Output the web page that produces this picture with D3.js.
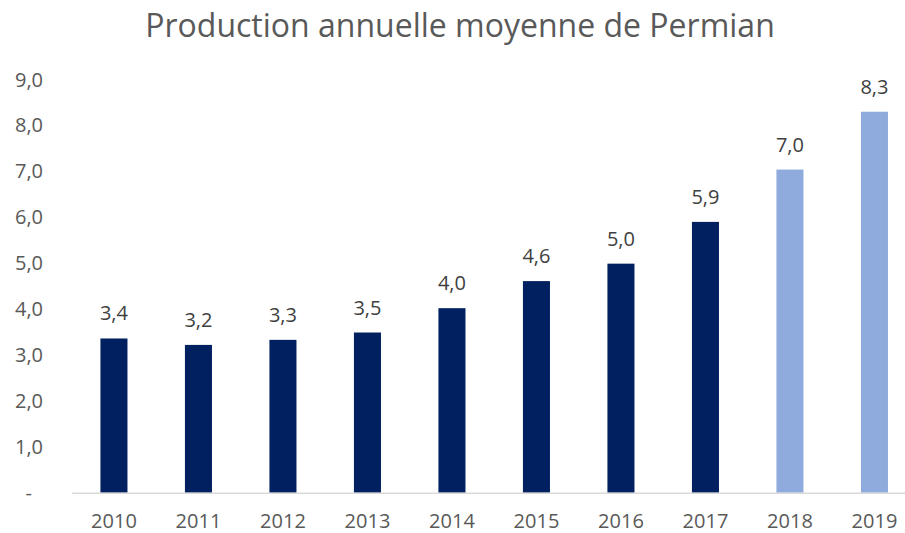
<!DOCTYPE html>
<html><head><meta charset="utf-8">
<script src="https://cdn.jsdelivr.net/npm/d3@7"></script>
<style>html,body{margin:0;padding:0;background:#fff;overflow:hidden}</style>
</head><body>
<svg id="c" width="905" height="533"></svg>
<script>
const title = "Production annuelle moyenne de Permian";
const years = ["2010","2011","2012","2013","2014","2015","2016","2017","2018","2019"];
const values = [3.36, 3.22, 3.33, 3.49, 4.02, 4.61, 4.99, 5.90, 7.04, 8.30];
const forecast = [false,false,false,false,false,false,false,false,true,true];
const yTicks = [0,1,2,3,4,5,6,7,8,9];

const svg = d3.select("#c");
const font = "'Open Sans', sans-serif";
const x = d3.scaleBand().domain(years).range([71.7, 916.7]).paddingInner(0.68).paddingOuter(0.34);
const y = d3.scaleLinear().domain([0, 9]).range([492.7, 79.6]);
const fmt = v => d3.format(".1f")(v).replace(".", ",");

svg.append("text").attr("x", 460).attr("y", 36.5).attr("text-anchor", "middle")
  .attr("font-family", font).attr("font-size", 32).attr("fill", "#595959").text(title);

// y tick labels
const yAxis = svg.append("g").attr("transform", "translate(43,0)")
  .call(d3.axisLeft(y).tickValues(yTicks).tickSize(0).tickPadding(0).tickFormat(v => v === 0 ? "-" : fmt(v)));
yAxis.select(".domain").remove();
yAxis.selectAll("text").attr("font-family", font).attr("font-size", 20).attr("fill", "#595959")
  .attr("dx", v => v === 0 ? -11 : 0);

// bars
svg.append("g").selectAll("rect").data(years).join("rect")
  .attr("x", d => x(d)).attr("width", x.bandwidth())
  .attr("y", (d, i) => y(values[i])).attr("height", (d, i) => y(0) - y(values[i]))
  .attr("fill", (d, i) => forecast[i] ? "#8FAADC" : "#002060");

// baseline
const xAxis = svg.append("g").attr("transform", `translate(0,${y(0)})`)
  .call(d3.axisBottom(x).tickSize(0).tickPadding(21));
xAxis.select(".domain").attr("stroke", "#d9d9d9").attr("stroke-width", 1.5);
xAxis.selectAll("text").attr("font-family", font).attr("font-size", 20).attr("fill", "#595959");

// data labels
svg.append("g").selectAll("text").data(years).join("text")
  .attr("x", d => x(d) + x.bandwidth() / 2).attr("y", (d, i) => y(values[i]) - 18)
  .attr("text-anchor", "middle").attr("font-family", font).attr("font-size", 20).attr("fill", "#404040")
  .text((d, i) => fmt(values[i]));
</script>
</body></html>
